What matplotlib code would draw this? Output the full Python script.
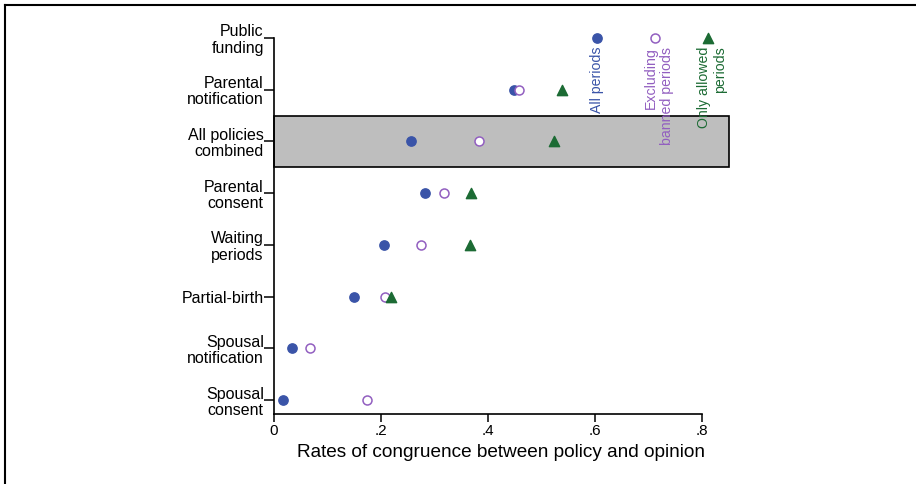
import numpy as np
import matplotlib
matplotlib.use('Agg')
import matplotlib.pyplot as plt
from matplotlib.patches import Rectangle
from matplotlib.lines import Line2D

plt.rcParams['font.family'] = ['Liberation Sans', 'DejaVu Sans']

# policies, top to bottom
policies = ['Public\nfunding', 'Parental\nnotification', 'All policies\ncombined',
            'Parental\nconsent', 'Waiting\nperiods', 'Partial-birth',
            'Spousal\nnotification', 'Spousal\nconsent']

all_periods = [0.604, 0.449, 0.256, 0.283, 0.206, 0.150, 0.033, 0.017]
excl_banned = [0.712, 0.458, 0.383, 0.318, 0.274, 0.207, 0.067, 0.173]
only_allowed = [0.811, 0.538, 0.523, 0.369, 0.367, 0.219, np.nan, np.nan]

xticks = [0, 0.2, 0.4, 0.6, 0.8]
xticklabels = ['0', '.2', '.4', '.6', '.8']

blue = '#3a54a8'
purple = '#925fc0'
green = '#1c6b34'

ypos = np.arange(len(policies), 0, -1)  # 8 .. 1

fig = plt.figure(figsize=(9.16, 4.84), dpi=100)
ax = fig.add_axes([274/916, (484-414)/484, 0.85*535/916, 404/484])

# highlight band for combined row
combined = policies.index('All policies\ncombined')
ax.add_patch(Rectangle((0, ypos[combined]-0.5), 0.85, 1.0, facecolor='#bebebe',
                       edgecolor='black', lw=1.2, zorder=1, clip_on=False))

ax.scatter(all_periods, ypos, s=45, color=blue, zorder=3)
ax.scatter(excl_banned, ypos, s=42, facecolors='white', edgecolors=purple, lw=1.1, zorder=3)
ax.scatter(only_allowed, ypos, s=55, marker='^', color=green, zorder=3)

# series labels below the top row markers
ax.text(all_periods[0], ypos[0]-0.17, 'All periods', rotation=90, ha='center', va='top',
        color=blue, fontsize=10.2)
ax.text(excl_banned[0]+0.008, ypos[0]-0.17, 'Excluding\nbanned periods', rotation=90,
        ha='center', va='top', multialignment='right', color=purple, fontsize=10.2,
        linespacing=1.2)
ax.text(only_allowed[0]+0.008, ypos[0]-0.17, 'Only allowed\nperiods', rotation=90,
        ha='center', va='top', multialignment='right', color=green, fontsize=10.2,
        linespacing=1.2)

ax.set_xlim(0, 0.85)
ax.set_ylim(0.73, 8.54)
ax.set_yticks(ypos)
ax.set_yticklabels(policies, fontsize=11.5, linespacing=1.1)
ax.set_xticks(xticks)
ax.set_xticklabels(xticklabels, fontsize=11)
ax.set_xlabel('Rates of congruence between policy and opinion', fontsize=13.7, labelpad=4)

for s in ['top', 'right']:
    ax.spines[s].set_visible(False)
ax.spines['left'].set_bounds(0.73, 8)
ax.spines['bottom'].set_bounds(0, 0.8)
ax.spines['left'].set_linewidth(1.2)
ax.spines['bottom'].set_linewidth(1.2)
ax.tick_params(axis='y', length=7, width=1.1, pad=0.3)
ax.tick_params(axis='x', length=6, width=1.1, pad=1.5)
ax.patch.set_alpha(0)

# figure border, top and left only
fig.add_artist(Line2D([5/916, 1], [1-5/484, 1-5/484], color='black', lw=1.5))
fig.add_artist(Line2D([5/916, 5/916], [0, 1-5/484], color='black', lw=1.5))

fig.savefig('out.png', dpi=100)
